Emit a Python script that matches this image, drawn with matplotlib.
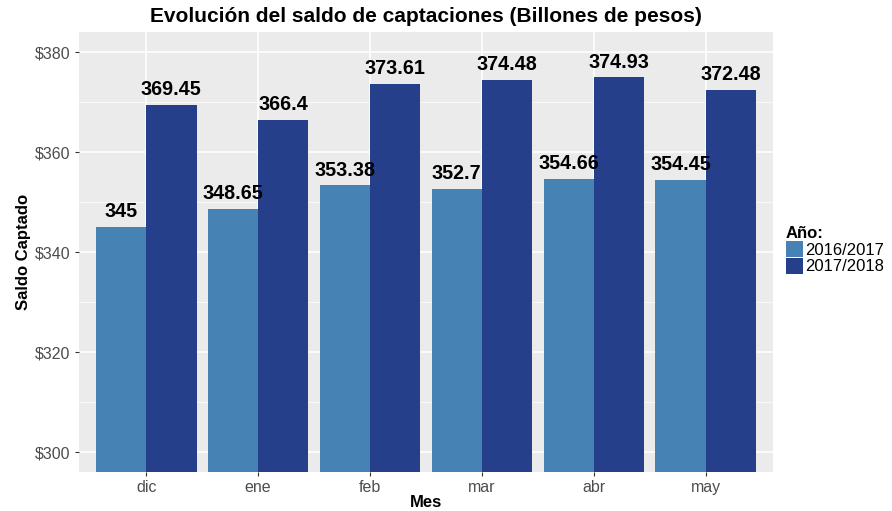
import matplotlib
matplotlib.use("Agg")
import matplotlib.pyplot as plt
import numpy as np
from matplotlib.patches import Patch

plt.rcParams['font.family'] = ['Liberation Sans', 'DejaVu Sans']

meses = ["dic", "ene", "feb", "mar", "abr", "may"]
saldo_2016_2017 = [345, 348.65, 353.38, 352.7, 354.66, 354.45]
saldo_2017_2018 = [369.45, 366.4, 373.61, 374.48, 374.93, 372.48]
etiquetas_anio = ["2016/2017", "2017/2018"]
colores = ["#4682B4", "#253F8A"]

fig = plt.figure(figsize=(8.92, 5.11), dpi=100)
W, H = 892, 511
ax = fig.add_axes([79 / W, (H - 472) / H, 694 / W, 440 / H])
ax.set_facecolor("#EBEBEB")

x = np.arange(len(meses))
w = 0.45
series = [saldo_2016_2017, saldo_2017_2018]
for i, vals in enumerate(series):
    pos = x + (i - 0.5) * w
    ax.bar(pos, np.array(vals) - 290, bottom=290, width=w, color=colores[i], zorder=3)
    for p, v in zip(pos, vals):
        ax.annotate(f"{v:g}", (p, v), xytext=(0, 4), textcoords="offset points",
                    ha="center", va="bottom", fontsize=14.2, fontweight="bold", zorder=4)

ax.set_xlim(-0.6, 5.6)
ax.set_ylim(296, 384)
ax.set_xticks(x)
ax.set_xticklabels(meses)
ax.set_yticks([300, 320, 340, 360, 380])
ax.set_yticklabels(["$300", "$320", "$340", "$360", "$380"])
ax.set_yticks([310, 330, 350, 370], minor=True)
ax.xaxis.set_minor_locator(plt.NullLocator())

ax.grid(which="major", color="white", linewidth=1.1, zorder=0)
ax.grid(which="minor", axis="y", color="white", linewidth=0.5, zorder=0)
ax.set_axisbelow(True)
for s in ax.spines.values():
    s.set_visible(False)
ax.tick_params(axis="both", which="major", colors="#333333", labelcolor="#4D4D4D",
               labelsize=11.5, length=3, width=0.8, pad=3)
ax.tick_params(axis="y", which="minor", length=0)

ax.set_xlabel("Mes", fontsize=12, fontweight="bold", labelpad=0)
ax.set_ylabel("Saldo Captado", fontsize=12, fontweight="bold", labelpad=3)
fig.text((79 + 773) / 2 / W, 1 - 17 / H, "Evolución del saldo de captaciones (Billones de pesos)",
         ha="center", va="center", fontsize=15, fontweight="bold")

handles = [Patch(facecolor=c, edgecolor="none") for c in colores]
leg = fig.legend(handles, etiquetas_anio, title="Año:", loc="upper left",
                 bbox_to_anchor=(786 / W, 1 - 226 / H), frameon=False,
                 fontsize=12, title_fontproperties={"weight": "bold", "size": 12},
                 handlelength=1.0, handleheight=1.1, handletextpad=0.15,
                 labelspacing=0.0, borderpad=0, borderaxespad=0, alignment="left")

fig.savefig("out.png", dpi=100)
